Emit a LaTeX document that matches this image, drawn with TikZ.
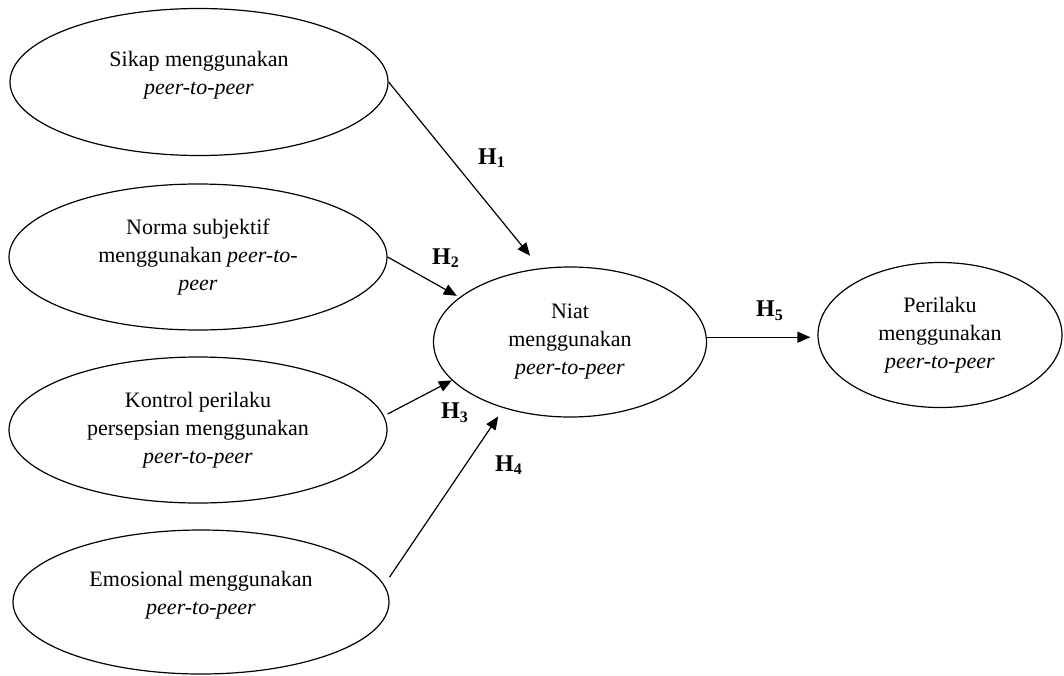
\documentclass[tikz,border=0pt]{standalone}
\usepackage{fontspec}
\setmainfont{Liberation Serif}
\usetikzlibrary{shapes.geometric,arrows.meta}
\begin{document}
\begin{tikzpicture}[x=0.5pt,y=-0.5pt,
		construct/.style={draw,ellipse,line width=0.6pt,inner sep=0pt,align=center,font=\fontsize{11}{14}\selectfont},
		hyp/.style={-{Triangle[length=6.5pt,width=5.5pt]},line width=0.6pt},
		hlabel/.style={font=\fontsize{12}{14}\selectfont\bfseries,inner sep=0pt}]
		\useasboundingbox (0,0) rectangle (1064,675);
		% konstruk
		\node[construct,minimum width=189pt,minimum height=73.5pt] (sikap) at (199,82) {Sikap menggunakan\\\textit{peer-to-peer}\\[-5pt]\mbox{}};
		\node[construct,minimum width=189pt,minimum height=73pt] (norma) at (198,257) {Norma subjektif\\menggunakan \textit{peer-to-}\\\textit{peer}};
		\node[construct,minimum width=189pt,minimum height=73pt] (kontrol) at (198,430) {Kontrol perilaku\\persepsian menggunakan\\\textit{peer-to-peer}};
		\node[construct,minimum width=188pt,minimum height=72pt] (emosional) at (201,602) {Emosional menggunakan\\\textit{peer-to-peer}\\[-5pt]\mbox{}};
		\node[construct,minimum width=136.5pt,minimum height=75pt] (niat) at (570,342) {Niat\\menggunakan\\\textit{peer-to-peer}};
		\node[construct,minimum width=122pt,minimum height=72.5pt] (perilaku) at (940,335) {Perilaku\\menggunakan\\\textit{peer-to-peer}};
		% hipotesis
		\draw[hyp,shorten >=8pt] (sikap.east) -- (niat.112);
		\draw[hyp,shorten >=1.5pt] (norma.east) -- (niat.158);
		\draw[hyp] ([yshift=8pt]kontrol.east) -- (niat.198);
		\draw[hyp,shorten >=5pt] ([yshift=12.5pt]emosional.east) -- (niat.225);
		\draw[hyp,shorten >=3.5pt] (niat.2) -- (niat.2 -| perilaku.west);
		\node[hlabel] (h1) at (492,158) {H\textsubscript{1}};
		\node[hlabel] (h2) at (446,258) {H\textsubscript{2}};
		\node[hlabel] (h3) at (455,413) {H\textsubscript{3}};
		\node[hlabel] (h4) at (509,465) {H\textsubscript{4}};
		\node[hlabel] (h5) at (770,311) {H\textsubscript{5}};
	\end{tikzpicture}
\end{document}
